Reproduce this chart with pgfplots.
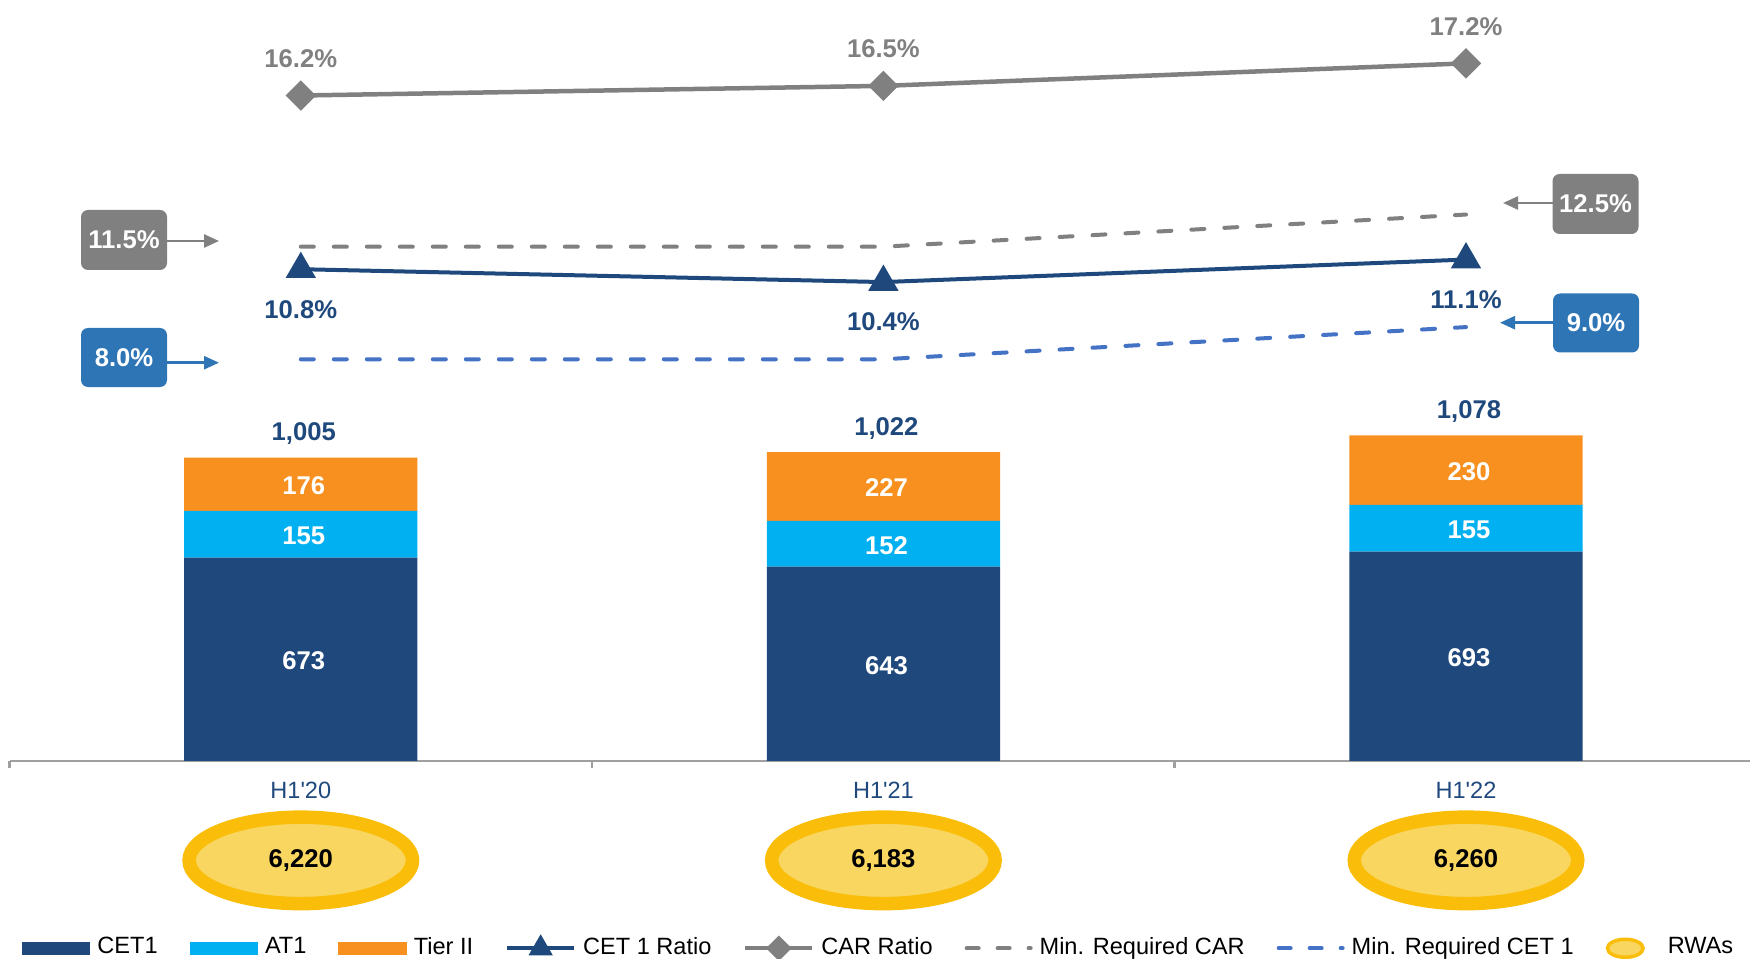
\documentclass[border=0pt]{standalone}
\usepackage{pgfplots}
\pgfplotsset{compat=1.18}
\usepackage{fontspec}
\setmainfont{Liberation Sans}
\usetikzlibrary{shapes.geometric,arrows.meta}
\definecolor{cetc}{RGB}{31,73,125}
\definecolor{atc}{RGB}{0,176,240}
\definecolor{tierc}{RGB}{247,144,30}
\definecolor{carc}{RGB}{128,128,128}
\definecolor{mincetc}{RGB}{68,114,196}
\definecolor{boxblue}{RGB}{46,117,182}
\definecolor{ringc}{RGB}{250,190,10}
\definecolor{fillc}{RGB}{248,214,96}
\definecolor{axc}{RGB}{160,160,160}
\newcommand{\lbl}{\fontsize{7.3}{8.5}\selectfont\bfseries}
\newcommand{\sml}{\fontsize{6.7}{8}\selectfont}

\begin{document}
\begin{tikzpicture}
\useasboundingbox (0,0) rectangle (175mm,-95.9mm);
\pgfplotsset{
  base/.style={
    scale only axis, width=174.05mm, height=76.1mm,
    at={(0.95mm,0mm)}, anchor=north west,
    xmin=-0.5, xmax=2.4875, clip=false,
  }
}
% ---------------- stacked bars ----------------
\begin{axis}[base, ybar stacked, bar width=23.33mm, ymin=0, ymax=2519,
  axis y line=none, axis x line*=bottom,
  x axis line style={draw=axc, line width=0.25mm, -},
  xtick={0,1,2},
  xticklabels={H1\textquotesingle 20, H1\textquotesingle 21, H1\textquotesingle 22},
  major tick length=0pt,
  minor xtick={-0.5,0.5,1.5},
  minor x tick style={draw=axc, line width=0.25mm},
  minor tick length=0.7mm, tick align=outside,
  xticklabel style={font=\sml, text=cetc, anchor=center, yshift=-2.9mm},
]
\addplot[fill=cetc, draw=none] coordinates {(0,673) (1,643) (2,693)};
\addplot[fill=atc, draw=none] coordinates {(0,155) (1,152) (2,155)};
\addplot[fill=tierc, draw=none] coordinates {(0,176) (1,227) (2,230)};
\end{axis}
% ---------------- labels on bars, totals, RWAs ----------------
\begin{axis}[base, ymin=0, ymax=2519, hide axis]
\addplot[draw=none, mark=none, nodes near coords, point meta=explicit symbolic,
  every node near coord/.style={anchor=center, xshift=0.3mm, yshift=-0.15mm, font=\lbl, text=white}]
  coordinates {(0,336.5)[673] (0,750.5)[155] (0,916)[176]
               (1,321.5)[643] (1,719)[152] (1,908.5)[227]
               (2,346.5)[693] (2,770.5)[155] (2,963)[230]};
\addplot[draw=none, mark=none, nodes near coords, point meta=explicit symbolic,
  every node near coord/.style={anchor=center, xshift=0.3mm, yshift=2.4mm, font=\lbl, text=cetc}]
  coordinates {(0,1004)[1,005] (1,1022)[1,022] (2,1078)[1,078]};
\addplot[draw=none, mark=none, nodes near coords, point meta=explicit symbolic,
  every node near coord/.style={anchor=center, ellipse, draw=ringc, fill=fillc,
    line width=1.35mm, minimum width=22.35mm, minimum height=8.65mm, inner sep=0pt,
    font=\lbl, text=black}]
  coordinates {(0,-329)[6,220] (1,-329)[6,183] (2,-329)[6,260]};
\end{axis}
% ---------------- ratio lines ----------------
\begin{axis}[base, ymin=-4.49, ymax=19.17, hide axis,
  legend columns=-1, legend cell align=left,
  legend style={at={(0.00718,-0.2461)}, anchor=west, draw=none, fill=none,
    inner sep=0pt, outer sep=0pt, font=\sml, nodes={inner sep=0pt},
    /tikz/every odd column/.append style={column sep=0.7mm},
    /tikz/every even column/.append style={column sep=3.2mm}},
]
\addplot[forget plot, carc, line width=0.4mm, dash pattern=on 1.3mm off 2mm, line cap=round]
  coordinates {(0,11.5) (1,11.5) (2,12.5)};
\addplot[forget plot, mincetc, line width=0.4mm, dash pattern=on 1.3mm off 2mm, line cap=round]
  coordinates {(0,8.0) (1,8.0) (2,9.0)};
\addplot[forget plot, carc, line width=0.45mm, mark=square*, mark size=0.85mm,
  mark options={rotate=45},
  nodes near coords, point meta=explicit symbolic,
  every node near coord/.style={anchor=center, yshift=3.7mm, font=\lbl, text=carc}]
  coordinates {(0,16.2)[16.2\%] (1,16.5)[16.5\%] (2,17.2)[17.2\%]};
\addplot[forget plot, cetc, line width=0.4mm, mark=triangle*, mark size=1.35mm,
  nodes near coords, point meta=explicit symbolic,
  every node near coord/.style={anchor=center, yshift=-4mm, font=\lbl, text=cetc}]
  coordinates {(0,10.8)[10.8\%] (1,10.4)[10.4\%] (2,11.1)[11.1\%]};

\addlegendimage{legend image code/.code={\fill[cetc] (0mm,-0.6mm) rectangle (6.7mm,0.6mm);}}
\addlegendentry{CET1}
\addlegendimage{legend image code/.code={\fill[atc] (0mm,-0.6mm) rectangle (6.7mm,0.6mm);}}
\addlegendentry{AT1}
\addlegendimage{legend image code/.code={\fill[tierc] (0mm,-0.6mm) rectangle (6.7mm,0.6mm);}}
\addlegendentry{Tier II}
\addlegendimage{legend image code/.code={\draw[cetc, line width=0.4mm, mark=triangle*, mark size=1mm, mark repeat=2, mark phase=2] plot coordinates {(0mm,0mm) (3.35mm,0mm) (6.7mm,0mm)};}}
\addlegendentry{CET 1 Ratio}
\addlegendimage{legend image code/.code={\draw[carc, line width=0.4mm, mark=square*, mark size=0.7mm, mark options={rotate=45}, mark repeat=2, mark phase=2] plot coordinates {(0mm,0mm) (3.35mm,0mm) (6.7mm,0mm)};}}
\addlegendentry{CAR Ratio}
\addlegendimage{legend image code/.code={\draw[carc, line width=0.4mm, dash pattern=on 1.2mm off 1.9mm, line cap=round] (0.2mm,0mm) -- (6.6mm,0mm);}}
\addlegendentry{Min. Required CAR}
\addlegendimage{legend image code/.code={\draw[mincetc, line width=0.4mm, dash pattern=on 1.2mm off 1.9mm, line cap=round] (0.2mm,0mm) -- (6.6mm,0mm);}}
\addlegendentry{Min. Required CET 1}
\addlegendimage{legend image code/.code={\filldraw[draw=ringc, line width=0.35mm, fill=fillc] (1.95mm,0mm) ellipse (1.78mm and 0.9mm); \node[inner sep=0pt, minimum size=0pt, outer sep=0pt] at (5.5mm,0mm) {};}}
\addlegendentry{RWAs}
\end{axis}
% ---------------- callout boxes ----------------
\begin{scope}[x=0.1mm, y=-0.1mm]
\node[fill=carc, rounded corners=0.7mm, minimum width=8.6mm, minimum height=6mm,
  inner sep=0pt, text=white, font=\lbl] at (124,240) {11.5\%};
\draw[carc, line width=0.25mm, -{Triangle[length=1.5mm, width=1.3mm]}] (167,241) -- (219,241);
\node[fill=boxblue, rounded corners=0.7mm, minimum width=8.6mm, minimum height=5.9mm,
  inner sep=0pt, text=white, font=\lbl] at (124,357.5) {8.0\%};
\draw[boxblue, line width=0.25mm, -{Triangle[length=1.5mm, width=1.3mm]}] (167,362.7) -- (219,362.7);
\node[fill=carc, rounded corners=0.7mm, minimum width=8.6mm, minimum height=6mm,
  inner sep=0pt, text=white, font=\lbl] at (1595.5,204) {12.5\%};
\draw[carc, line width=0.25mm, -{Triangle[length=1.5mm, width=1.3mm]}] (1553,203) -- (1503,203);
\node[fill=boxblue, rounded corners=0.7mm, minimum width=8.6mm, minimum height=5.9mm,
  inner sep=0pt, text=white, font=\lbl] at (1596,323) {9.0\%};
\draw[boxblue, line width=0.25mm, -{Triangle[length=1.5mm, width=1.3mm]}] (1553,322.7) -- (1500,322.7);
\end{scope}
\end{tikzpicture}
\end{document}
